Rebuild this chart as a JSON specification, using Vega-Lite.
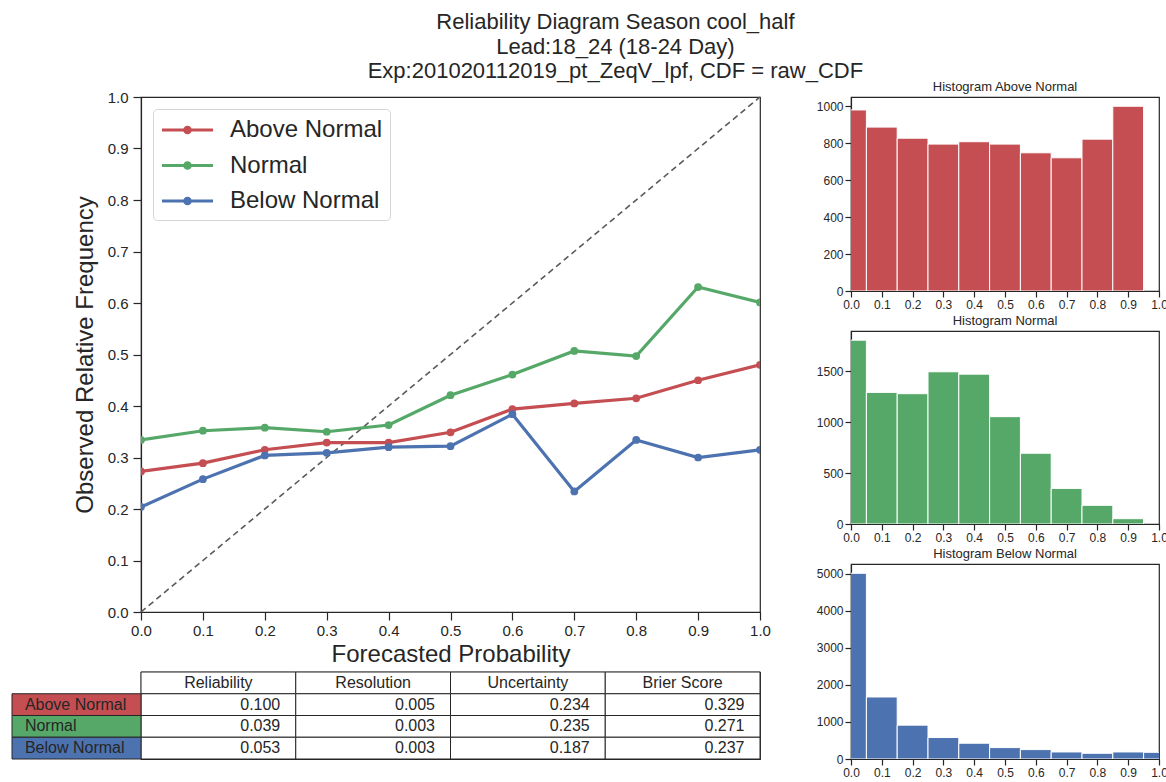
{
  "$schema": "https://vega.github.io/schema/vega-lite/v6.json",
  "background": "white",
  "padding": {"left": 10, "top": 11, "right": 0, "bottom": 0},
  "title": {
    "text": ["Reliability Diagram Season cool_half", "Lead:18_24 (18-24 Day)", "Exp:201020112019_pt_ZeqV_lpf, CDF = raw_CDF"],
    "fontSize": 22, "lineHeight": 24.5, "fontWeight": "normal", "color": "#262626",
    "font": "Liberation Sans", "anchor": "middle", "dx": 26, "offset": -3
  },
  "datasets": {
    "diagonal": [
      {"prob": 0, "freq": 0},
      {"prob": 1, "freq": 1}
    ],
    "reliability": [
      {"category": "Above Normal", "prob": 0.0, "freq": 0.273},
      {"category": "Above Normal", "prob": 0.1, "freq": 0.289},
      {"category": "Above Normal", "prob": 0.2, "freq": 0.315},
      {"category": "Above Normal", "prob": 0.3, "freq": 0.329},
      {"category": "Above Normal", "prob": 0.4, "freq": 0.329},
      {"category": "Above Normal", "prob": 0.5, "freq": 0.349},
      {"category": "Above Normal", "prob": 0.6, "freq": 0.394},
      {"category": "Above Normal", "prob": 0.7, "freq": 0.405},
      {"category": "Above Normal", "prob": 0.8, "freq": 0.415},
      {"category": "Above Normal", "prob": 0.9, "freq": 0.450},
      {"category": "Above Normal", "prob": 1.0, "freq": 0.480},
      {"category": "Normal", "prob": 0.0, "freq": 0.334},
      {"category": "Normal", "prob": 0.1, "freq": 0.352},
      {"category": "Normal", "prob": 0.2, "freq": 0.358},
      {"category": "Normal", "prob": 0.3, "freq": 0.350},
      {"category": "Normal", "prob": 0.4, "freq": 0.363},
      {"category": "Normal", "prob": 0.5, "freq": 0.421},
      {"category": "Normal", "prob": 0.6, "freq": 0.461},
      {"category": "Normal", "prob": 0.7, "freq": 0.507},
      {"category": "Normal", "prob": 0.8, "freq": 0.497},
      {"category": "Normal", "prob": 0.9, "freq": 0.631},
      {"category": "Normal", "prob": 1.0, "freq": 0.601},
      {"category": "Below Normal", "prob": 0.0, "freq": 0.204},
      {"category": "Below Normal", "prob": 0.1, "freq": 0.258},
      {"category": "Below Normal", "prob": 0.2, "freq": 0.304},
      {"category": "Below Normal", "prob": 0.3, "freq": 0.309},
      {"category": "Below Normal", "prob": 0.4, "freq": 0.320},
      {"category": "Below Normal", "prob": 0.5, "freq": 0.322},
      {"category": "Below Normal", "prob": 0.6, "freq": 0.384},
      {"category": "Below Normal", "prob": 0.7, "freq": 0.234},
      {"category": "Below Normal", "prob": 0.8, "freq": 0.334},
      {"category": "Below Normal", "prob": 0.9, "freq": 0.300},
      {"category": "Below Normal", "prob": 1.0, "freq": 0.315}
    ],
    "scores": [
      {"category": "Above Normal", "metric": "Reliability", "value": 0.100},
      {"category": "Above Normal", "metric": "Resolution", "value": 0.005},
      {"category": "Above Normal", "metric": "Uncertainty", "value": 0.234},
      {"category": "Above Normal", "metric": "Brier Score", "value": 0.329},
      {"category": "Normal", "metric": "Reliability", "value": 0.039},
      {"category": "Normal", "metric": "Resolution", "value": 0.003},
      {"category": "Normal", "metric": "Uncertainty", "value": 0.235},
      {"category": "Normal", "metric": "Brier Score", "value": 0.271},
      {"category": "Below Normal", "metric": "Reliability", "value": 0.053},
      {"category": "Below Normal", "metric": "Resolution", "value": 0.003},
      {"category": "Below Normal", "metric": "Uncertainty", "value": 0.187},
      {"category": "Below Normal", "metric": "Brier Score", "value": 0.237}
    ],
    "hist": [
      {"category": "Above Normal", "bin_start": -0.05, "bin_end": 0.05, "count": 980},
      {"category": "Above Normal", "bin_start": 0.05, "bin_end": 0.15, "count": 887},
      {"category": "Above Normal", "bin_start": 0.15, "bin_end": 0.25, "count": 827},
      {"category": "Above Normal", "bin_start": 0.25, "bin_end": 0.35, "count": 795},
      {"category": "Above Normal", "bin_start": 0.35, "bin_end": 0.45, "count": 808},
      {"category": "Above Normal", "bin_start": 0.45, "bin_end": 0.55, "count": 795},
      {"category": "Above Normal", "bin_start": 0.55, "bin_end": 0.65, "count": 748},
      {"category": "Above Normal", "bin_start": 0.65, "bin_end": 0.75, "count": 721},
      {"category": "Above Normal", "bin_start": 0.75, "bin_end": 0.85, "count": 822},
      {"category": "Above Normal", "bin_start": 0.85, "bin_end": 0.95, "count": 1000},
      {"category": "Normal", "bin_start": -0.05, "bin_end": 0.05, "count": 1803},
      {"category": "Normal", "bin_start": 0.05, "bin_end": 0.15, "count": 1291},
      {"category": "Normal", "bin_start": 0.15, "bin_end": 0.25, "count": 1278},
      {"category": "Normal", "bin_start": 0.25, "bin_end": 0.35, "count": 1493},
      {"category": "Normal", "bin_start": 0.35, "bin_end": 0.45, "count": 1470},
      {"category": "Normal", "bin_start": 0.45, "bin_end": 0.55, "count": 1053},
      {"category": "Normal", "bin_start": 0.55, "bin_end": 0.65, "count": 694},
      {"category": "Normal", "bin_start": 0.65, "bin_end": 0.75, "count": 349},
      {"category": "Normal", "bin_start": 0.75, "bin_end": 0.85, "count": 183},
      {"category": "Normal", "bin_start": 0.85, "bin_end": 0.95, "count": 52},
      {"category": "Below Normal", "bin_start": -0.05, "bin_end": 0.05, "count": 5018},
      {"category": "Below Normal", "bin_start": 0.05, "bin_end": 0.15, "count": 1676},
      {"category": "Below Normal", "bin_start": 0.15, "bin_end": 0.25, "count": 915},
      {"category": "Below Normal", "bin_start": 0.25, "bin_end": 0.35, "count": 580},
      {"category": "Below Normal", "bin_start": 0.35, "bin_end": 0.45, "count": 426},
      {"category": "Below Normal", "bin_start": 0.45, "bin_end": 0.55, "count": 308},
      {"category": "Below Normal", "bin_start": 0.55, "bin_end": 0.65, "count": 254},
      {"category": "Below Normal", "bin_start": 0.65, "bin_end": 0.75, "count": 190},
      {"category": "Below Normal", "bin_start": 0.75, "bin_end": 0.85, "count": 154},
      {"category": "Below Normal", "bin_start": 0.85, "bin_end": 0.95, "count": 190},
      {"category": "Below Normal", "bin_start": 0.95, "bin_end": 1.05, "count": 181}
    ]
  },
  "spacing": 43,
  "hconcat": [
    {
      "vconcat": [
        {
          "width": 619,
          "height": 515,
          "layer": [
            {
              "data": {"name": "diagonal"},
              "mark": {"type": "line", "color": "#5a5a5a", "strokeDash": [6, 4], "strokeWidth": 1.6},
              "encoding": {
                "x": {"field": "prob", "type": "quantitative"},
                "y": {"field": "freq", "type": "quantitative"}
              }
            },
            {
              "data": {"name": "reliability"},
              "mark": {"type": "line", "strokeWidth": 3.2, "clip": true},
              "encoding": {
                "x": {"field": "prob", "type": "quantitative"},
                "y": {"field": "freq", "type": "quantitative"},
                "color": {
                  "field": "category",
                  "type": "nominal",
                  "scale": {"domain": ["Above Normal", "Normal", "Below Normal"], "range": ["#C44E52", "#55A868", "#4C72B0"]},
                  "legend": {
                    "orient": "top-left", "offset": 12, "title": null,
                    "labelFontSize": 24, "labelColor": "#262626", "labelFont": "Liberation Sans",
                    "symbolType": "M-1,0H3.25M0.9,0A0.225,0.225,0,1,0,1.35,0A0.225,0.225,0,1,0,0.9,0",
                    "symbolSize": 576, "symbolStrokeWidth": 3.2,
                    "padding": 7, "strokeColor": "#d5d5d5", "fillColor": "white", "cornerRadius": 4,
                    "rowPadding": 9.5, "labelOffset": 42,
                    "encode": {"symbols": {"update": {"fill": {"scale": "color", "field": "value"}}}}
                  }
                }
              }
            },
            {
              "data": {"name": "reliability"},
              "mark": {"type": "point", "filled": true, "size": 60, "opacity": 1, "clip": true},
              "encoding": {
                "x": {"field": "prob", "type": "quantitative"},
                "y": {"field": "freq", "type": "quantitative"},
                "color": {"field": "category", "type": "nominal"}
              }
            }
          ],
          "encoding": {
            "x": {
              "type": "quantitative",
              "scale": {"domain": [0, 1], "nice": false},
              "axis": {"title": "Forecasted Probability", "values": [0, 0.1, 0.2, 0.3, 0.4, 0.5, 0.6, 0.7, 0.8, 0.9, 1], "format": ".1f", "labelFontSize": 15, "titleFontSize": 24, "tickSize": 8, "labelPadding": 3, "titlePadding": 4}
            },
            "y": {
              "type": "quantitative",
              "scale": {"domain": [0, 1], "nice": false},
              "axis": {"title": "Observed Relative Frequency", "values": [0, 0.1, 0.2, 0.3, 0.4, 0.5, 0.6, 0.7, 0.8, 0.9, 1], "format": ".1f", "labelFontSize": 15, "titleFontSize": 24, "tickSize": 8, "labelPadding": 5, "titlePadding": 10}
            }
          }
        },
        {
          "width": 619,
          "height": 87,
          "data": {"name": "scores"},
          "resolve": {"scale": {"x": "independent"}},
          "encoding": {
            "y": {"type": "nominal", "scale": {"domain": ["header", "Above Normal", "Normal", "Below Normal"], "paddingInner": 0, "paddingOuter": 0}, "axis": null}
          },
          "layer": [
            {
              "transform": [{"filter": "datum.category === 'Above Normal'"}],
              "mark": {"type": "rect", "fill": "white", "stroke": "#262626", "strokeWidth": 1},
              "encoding": {
                "x": {"field": "metric", "type": "nominal", "scale": {"domain": ["Reliability", "Resolution", "Uncertainty", "Brier Score"], "paddingInner": 0, "paddingOuter": 0}, "axis": null},
                "y": {"datum": "header", "type": "nominal"}
              }
            },
            {
              "transform": [{"filter": "datum.category === 'Above Normal'"}],
              "mark": {"type": "text", "fontSize": 16, "color": "#262626", "align": "center", "baseline": "middle"},
              "encoding": {
                "x": {"field": "metric", "type": "nominal", "scale": {"domain": ["Reliability", "Resolution", "Uncertainty", "Brier Score"], "paddingInner": 0, "paddingOuter": 0}, "axis": null},
                "y": {"datum": "header", "type": "nominal"},
                "text": {"field": "metric"}
              }
            },
            {
              "mark": {"type": "rect", "fill": "white", "stroke": "#262626", "strokeWidth": 1},
              "encoding": {
                "x": {"field": "metric", "type": "nominal", "scale": {"domain": ["Reliability", "Resolution", "Uncertainty", "Brier Score"], "paddingInner": 0, "paddingOuter": 0}, "axis": null},
                "y": {"field": "category", "type": "nominal"}
              }
            },
            {
              "mark": {"type": "text", "fontSize": 16, "color": "#262626", "align": "right", "baseline": "middle"},
              "encoding": {
                "x": {"field": "metric", "type": "nominal", "scale": {"type": "point", "domain": ["Reliability", "Resolution", "Uncertainty", "Brier Score"], "padding": 0.5, "align": 0.9, "round": false}, "axis": null},
                "y": {"field": "category", "type": "nominal"},
                "text": {"field": "value", "type": "quantitative", "format": ".3f"}
              }
            },
            {
              "transform": [{"filter": "datum.metric === 'Reliability'"}],
              "mark": {"type": "rect", "stroke": "#262626", "strokeWidth": 1},
              "encoding": {
                "x": {"datum": "label", "type": "nominal", "scale": {"domain": ["label"], "range": [-129, 0], "paddingInner": 0, "paddingOuter": 0}, "axis": null},
                "y": {"field": "category", "type": "nominal"},
                "fill": {
                  "condition": [
                    {"test": "datum.category === 'Above Normal'", "value": "#C44E52"},
                    {"test": "datum.category === 'Normal'", "value": "#55A868"}
                  ],
                  "value": "#4C72B0"
                }
              }
            },
            {
              "transform": [{"filter": "datum.metric === 'Reliability'"}],
              "mark": {"type": "text", "fontSize": 16, "color": "#262626", "align": "left", "baseline": "middle"},
              "encoding": {
                "x": {"datum": "label", "type": "nominal", "scale": {"type": "point", "domain": ["label"], "range": [-129, 0], "padding": 0.5, "align": 0.1, "round": false}, "axis": null},
                "y": {"field": "category", "type": "nominal"},
                "text": {"field": "category"}
              }
            }
          ]
        }
      ],
      "spacing": 60,
      "bounds": "flush"
    },
    {
      "vconcat": [
        {
          "width": 308,
          "height": 194,
          "title": {"text": "Histogram Above Normal"},
          "data": {"name": "hist"},
          "transform": [{"filter": "datum.category === 'Above Normal'"}],
          "mark": {"type": "bar", "color": "#C44E52", "stroke": "white", "strokeWidth": 1, "clip": true},
          "encoding": {
            "x": {"field": "bin_start", "type": "quantitative", "scale": {"domain": [0, 1], "nice": false}, "axis": {"title": null, "values": [0, 0.1, 0.2, 0.3, 0.4, 0.5, 0.6, 0.7, 0.8, 0.9, 1], "format": ".1f"}},
            "x2": {"field": "bin_end"},
            "y": {"field": "count", "type": "quantitative", "scale": {"domain": [0, 1050], "nice": false}, "axis": {"title": null, "values": [0, 200, 400, 600, 800, 1000], "format": "d"}},
            "y2": {"datum": 0}
          }
        },
        {
          "width": 308,
          "height": 193,
          "title": {"text": "Histogram Normal"},
          "data": {"name": "hist"},
          "transform": [{"filter": "datum.category === 'Normal'"}],
          "mark": {"type": "bar", "color": "#55A868", "stroke": "white", "strokeWidth": 1, "clip": true},
          "encoding": {
            "x": {"field": "bin_start", "type": "quantitative", "scale": {"domain": [0, 1], "nice": false}, "axis": {"title": null, "values": [0, 0.1, 0.2, 0.3, 0.4, 0.5, 0.6, 0.7, 0.8, 0.9, 1], "format": ".1f"}},
            "x2": {"field": "bin_end"},
            "y": {"field": "count", "type": "quantitative", "scale": {"domain": [0, 1893], "nice": false}, "axis": {"title": null, "values": [0, 500, 1000, 1500], "format": "d"}},
            "y2": {"datum": 0}
          }
        },
        {
          "width": 308,
          "height": 195,
          "title": {"text": "Histogram Below Normal"},
          "data": {"name": "hist"},
          "transform": [{"filter": "datum.category === 'Below Normal'"}],
          "mark": {"type": "bar", "color": "#4C72B0", "stroke": "white", "strokeWidth": 1, "clip": true},
          "encoding": {
            "x": {"field": "bin_start", "type": "quantitative", "scale": {"domain": [0, 1], "nice": false}, "axis": {"title": null, "values": [0, 0.1, 0.2, 0.3, 0.4, 0.5, 0.6, 0.7, 0.8, 0.9, 1], "format": ".1f"}},
            "x2": {"field": "bin_end"},
            "y": {"field": "count", "type": "quantitative", "scale": {"domain": [0, 5269], "nice": false}, "axis": {"title": null, "values": [0, 1000, 2000, 3000, 4000, 5000], "format": "d"}},
            "y2": {"datum": 0}
          }
        }
      ],
      "spacing": 40,
      "bounds": "flush"
    }
  ],
  "config": {
    "font": "Liberation Sans",
    "view": {"stroke": "#262626", "strokeWidth": 1.2},
    "axis": {
      "grid": false, "domainColor": "#262626", "tickColor": "#262626", "labelColor": "#262626", "titleColor": "#262626",
      "labelFont": "Liberation Sans", "titleFont": "Liberation Sans", "titleFontWeight": "normal",
      "labelFontSize": 12, "tickSize": 6, "labelPadding": 2, "domainWidth": 1.2, "tickWidth": 1.2,
      "labelFlush": false, "labelOverlap": false
    },
    "title": {"fontSize": 13, "fontWeight": "normal", "color": "#262626", "offset": 3, "font": "Liberation Sans"}
  }
}
